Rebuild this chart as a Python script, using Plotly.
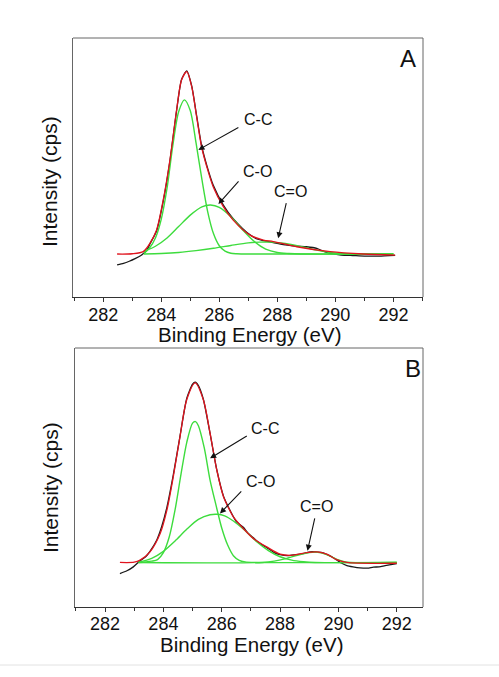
import plotly.graph_objects as go

# ---------------- Panel A data (binding energy eV, intensity a.u.) ----------------
a_data_x = [282.48, 282.7, 282.9, 283.1, 283.3, 283.5, 283.61, 283.84, 284.07, 284.30, 284.53,
            284.70, 284.88, 285.05, 285.22, 285.39, 285.57, 285.79, 286.14, 286.48, 286.8,
            287.06, 287.3, 287.52, 287.86, 288.2, 288.67, 289.0, 289.36, 289.6, 289.82,
            290.2, 290.6, 291.0, 291.5, 292.06]
a_data_y = [12.4, 13.0, 13.8, 14.8, 16.0, 18.0, 20.5, 25.5, 37.0, 52.5, 72.0,
            84.0, 87.3, 81.5, 70.0, 58.5, 50.8, 43.2, 35.5, 30.2, 26.5,
            24.0, 22.4, 21.8, 21.0, 20.2, 19.6, 19.4, 18.8, 17.6, 16.8,
            16.2, 16.0, 15.8, 15.8, 16.1]

a_fit_x = [282.48, 283.0, 283.38, 283.61, 283.84, 284.07, 284.30, 284.53, 284.70, 284.88,
           285.05, 285.22, 285.39, 285.57, 285.79, 286.14, 286.48, 287.06, 287.52, 287.86,
           288.67, 289.82, 290.97, 292.06]
a_fit_y = [16.6, 16.7, 17.5, 20.7, 25.9, 37.5, 52.9, 72.2, 83.8, 87.0,
           81.2, 69.6, 58.0, 50.3, 42.6, 34.9, 29.7, 23.9, 22.0, 21.4,
           19.4, 17.5, 16.6, 16.2]

a_cc_x = [283.4, 283.6, 283.8, 284.0, 284.2, 284.4, 284.6, 284.8, 285.0, 285.2, 285.4,
          285.6, 285.8, 286.0, 286.2, 286.4, 286.6, 287.0, 292.0]
a_cc_y = [16.8, 19.0, 22.8, 30.0, 42.0, 58.5, 71.5, 76.1, 72.0, 59.5, 45.5,
          33.0, 24.5, 19.8, 17.7, 16.9, 16.7, 16.6, 16.6]

a_co_x = [283.4, 283.8, 284.2, 284.6, 285.0, 285.4, 285.7, 286.0, 286.4, 286.8, 287.2,
          287.6, 288.0, 288.4, 288.8, 292.0]
a_co_y = [17.6, 19.6, 22.8, 27.2, 31.6, 34.8, 35.5, 34.6, 31.0, 26.0, 21.5,
          18.5, 17.2, 16.8, 16.6, 16.6]

a_cdo_x = [283.4, 284.0, 284.6, 285.2, 285.8, 286.4, 287.0, 287.4, 287.8, 288.2, 288.6,
           289.0, 289.4, 289.8, 290.2, 290.6, 292.0]
a_cdo_y = [16.6, 16.8, 17.2, 17.9, 18.8, 19.9, 20.9, 21.2, 21.2, 20.8, 20.0,
           19.0, 18.0, 17.2, 16.8, 16.6, 16.6]

# ---------------- Panel B data ----------------
b_data_x = [282.51, 282.75, 282.97, 283.2, 283.4, 283.54, 283.77, 283.94, 284.12, 284.34,
            284.57, 284.80, 285.0, 285.09, 285.2, 285.37, 285.60, 285.83, 286.06, 286.29,
            286.5, 286.74, 286.9, 287.08, 287.3, 287.54, 287.8, 288.0, 288.25, 288.46,
            288.7, 288.91, 289.1, 289.26, 289.45, 289.60, 289.8, 289.94, 290.1, 290.29,
            290.5, 290.74, 291.0, 291.2, 291.4, 291.6, 291.8, 292.0]
b_data_y = [12.9, 14.0, 15.5, 17.8, 19.5, 21.5, 25.8, 31.0, 38.5, 51.0,
            66.0, 80.5, 86.0, 86.8, 85.5, 80.2, 67.0, 53.0, 42.8, 37.2,
            33.0, 30.8, 28.5, 26.8, 24.6, 23.0, 21.0, 20.2, 19.8, 20.1,
            20.4, 21.0, 21.4, 21.2, 21.0, 20.3, 19.2, 18.2, 17.0, 16.0,
            15.5, 15.1, 15.0, 15.4, 15.5, 16.0, 16.4, 16.8]

b_fit_x = [282.51, 283.0, 283.2, 283.54, 283.89, 284.12, 284.34, 284.57, 284.80, 285.09,
           285.37, 285.60, 285.83, 286.06, 286.29, 286.40, 286.74, 287.08, 287.54, 288.0,
           288.46, 288.91, 289.26, 289.60, 289.94, 290.29, 292.0]
b_fit_y = [17.2, 17.3, 18.1, 21.3, 28.4, 37.4, 50.3, 65.8, 80.0, 86.5,
           80.0, 67.1, 52.9, 42.6, 37.0, 34.8, 30.3, 26.5, 23.2, 20.4,
           20.0, 21.0, 21.3, 20.4, 18.3, 17.2, 16.9]

b_cc_x = [283.15, 283.4, 283.6, 283.8, 284.0, 284.2, 284.4, 284.6, 284.8, 285.0, 285.1,
          285.2, 285.4, 285.6, 285.8, 286.0, 286.2, 286.4, 286.6, 286.8, 287.2, 292.0]
b_cc_y = [17.2, 17.4, 17.7, 18.3, 21.0, 27.0, 37.5, 51.0, 63.5, 71.0, 71.6,
          70.0, 61.5, 49.0, 39.5, 30.5, 24.0, 19.8, 18.0, 17.4, 17.2, 17.2]

b_co_x = [283.15, 283.6, 284.0, 284.4, 284.8, 285.2, 285.6, 285.85, 286.1, 286.4, 286.8,
          287.2, 287.6, 288.0, 288.4, 288.8, 289.2, 292.0]
b_co_y = [17.3, 18.8, 21.5, 25.5, 30.0, 33.8, 35.6, 35.8, 35.2, 33.2, 29.5,
          25.2, 21.8, 19.4, 18.1, 17.5, 17.2, 17.2]

b_cdo_x = [283.15, 287.4, 287.8, 288.2, 288.6, 289.0, 289.2, 289.4, 289.6, 289.8, 290.0,
           290.2, 290.4, 292.0]
b_cdo_y = [17.2, 17.2, 17.7, 18.7, 20.0, 21.0, 21.2, 20.9, 20.2, 19.2, 18.2,
           17.5, 17.2, 17.2]

# tick values / labels
tick_vals = [282, 284, 286, 288, 290, 292]
tick_text = ["282", "284", "286", "288", "290", "292"]
peak_labels = ["C-C", "C-O", "C=O"]
x_title = "Binding Energy (eV)"
y_title = "Intensity (cps)"

# annotation positions (data coords): label centre, arrow tail, arrow tip
a_label_pos = [(287.32, 68.5), (287.33, 48.6), (288.45, 40.7)]
a_arrows = [((286.71, 65.8), (285.28, 56.8)), ((286.71, 45.2), (285.97, 35.9)),
            ((288.32, 36.8), (288.03, 22.7))]
b_label_pos = [(287.49, 68.8), (287.33, 48.6), (289.25, 38.8)]
b_arrows = [((286.91, 66.4), (285.60, 57.4)), ((286.72, 45.2), (285.94, 36.1)),
            ((289.20, 34.8), (288.94, 21.7))]

FONT = "Arial, Liberation Sans, Helvetica, sans-serif"
BLACK = "#1a1a1a"
RED = "#e0141e"
GREEN = "#3ddc3d"

fig = go.Figure()

def add_panel(xa, ya, dx, dy, fx, fy, comps):
    fig.add_trace(go.Scatter(x=dx, y=dy, mode="lines", line=dict(color=BLACK, width=1.3, shape="spline", smoothing=0.6),
                             xaxis=xa, yaxis=ya, showlegend=False, hoverinfo="skip"))
    for cx, cy in comps:
        fig.add_trace(go.Scatter(x=cx, y=cy, mode="lines", line=dict(color=GREEN, width=1.4, shape="spline", smoothing=0.8),
                                 xaxis=xa, yaxis=ya, showlegend=False, hoverinfo="skip"))
    fig.add_trace(go.Scatter(x=fx, y=fy, mode="lines", line=dict(color=RED, width=1.3, shape="spline", smoothing=0.8),
                             xaxis=xa, yaxis=ya, showlegend=False, hoverinfo="skip"))

add_panel("x", "y", a_data_x, a_data_y, a_fit_x, a_fit_y,
          [(a_cc_x, a_cc_y), (a_co_x, a_co_y), (a_cdo_x, a_cdo_y)])
add_panel("x2", "y2", b_data_x, b_data_y, b_fit_x, b_fit_y,
          [(b_cc_x, b_cc_y), (b_co_x, b_co_y), (b_cdo_x, b_cdo_y)])

W, H = 499, 677

def xaxis_cfg(domain, rng, anchor, standoff):
    return dict(domain=domain, range=rng, anchor=anchor, showgrid=False, zeroline=False,
                showline=True, linecolor="#333", linewidth=1, mirror=False,
                ticks="outside", ticklen=4, tickwidth=1, tickcolor="#333",
                tickvals=tick_vals, ticktext=tick_text, ticklabelstandoff=standoff,
                tickfont=dict(family=FONT, size=18, color="#111"),
                minor=dict(ticks="outside", ticklen=3, tickcolor="#333", dtick=1, tick0=281))

def yaxis_cfg(domain, anchor):
    return dict(domain=domain, range=[0, 100], anchor=anchor, showgrid=False, zeroline=False,
                showline=True, linecolor="#666", linewidth=1, showticklabels=False, ticks="")

fig.update_layout(
    width=W, height=H, margin=dict(l=0, r=0, t=0, b=0),
    paper_bgcolor="white", plot_bgcolor="white",
    xaxis=xaxis_cfg([73 / W, 423 / W], [280.96, 293.02], "y", -3),
    yaxis=yaxis_cfg([1 - 297 / H, 1 - 38 / H], "x"),
    xaxis2=xaxis_cfg([75 / W, 423 / W], [280.97, 292.9], "y2", -4),
    yaxis2=yaxis_cfg([1 - 607 / H, 1 - 348 / H], "x2"),
)

shapes = []
for xr, yr in (("x domain", "y domain"), ("x2 domain", "y2 domain")):
    shapes.append(dict(type="line", xref=xr, yref=yr, x0=0, x1=1, y0=1, y1=1, line=dict(color="#666", width=1)))
    shapes.append(dict(type="line", xref=xr, yref=yr, x0=1, x1=1, y0=0, y1=1, line=dict(color="#666", width=1)))
shapes.append(dict(type="line", xref="paper", yref="paper", x0=0, x1=1, y0=1 - 665 / H, y1=1 - 665 / H,
                   line=dict(color="#e2e2e2", width=1)))
fig.update_layout(shapes=shapes)

ann = []
for xr, yr, labels, arrows, letter, lpos in (
        ("x", "y", a_label_pos, a_arrows, "A", (292.5, 91.9)),
        ("x2", "y2", b_label_pos, b_arrows, "B", (292.56, 92.2))):
    for txt, (lx, ly) in zip(peak_labels, labels):
        ann.append(dict(x=lx, y=ly, xref=xr, yref=yr, text=txt, showarrow=False,
                        font=dict(family=FONT, size=16, color="#111")))
    for (tx, ty), (hx, hy) in arrows:
        ann.append(dict(x=hx, y=hy, ax=tx, ay=ty, xref=xr, yref=yr, axref=xr, ayref=yr, text="",
                        showarrow=True, arrowhead=2, arrowsize=1.1, arrowwidth=1.1, arrowcolor="#111",
                        standoff=0, startstandoff=0))
    ann.append(dict(x=lpos[0], y=lpos[1], xref=xr, yref=yr, text=letter, showarrow=False,
                    font=dict(family=FONT, size=24, color="#111")))

# axis titles placed as text at measured positions
for cx, cy in ((249, 334), (252, 644.5)):
    ann.append(dict(x=cx / W, y=1 - cy / H, xref="paper", yref="paper", text=x_title,
                    xanchor="center", yanchor="middle", showarrow=False,
                    font=dict(family=FONT, size=20.5, color="#111")))
for cy in (182, 488):
    ann.append(dict(x=50 / W, y=1 - cy / H, xref="paper", yref="paper", text=y_title, textangle=-90,
                    xanchor="center", yanchor="middle", showarrow=False,
                    font=dict(family=FONT, size=21, color="#111")))
fig.update_layout(annotations=ann)

fig.write_html("out.html")
